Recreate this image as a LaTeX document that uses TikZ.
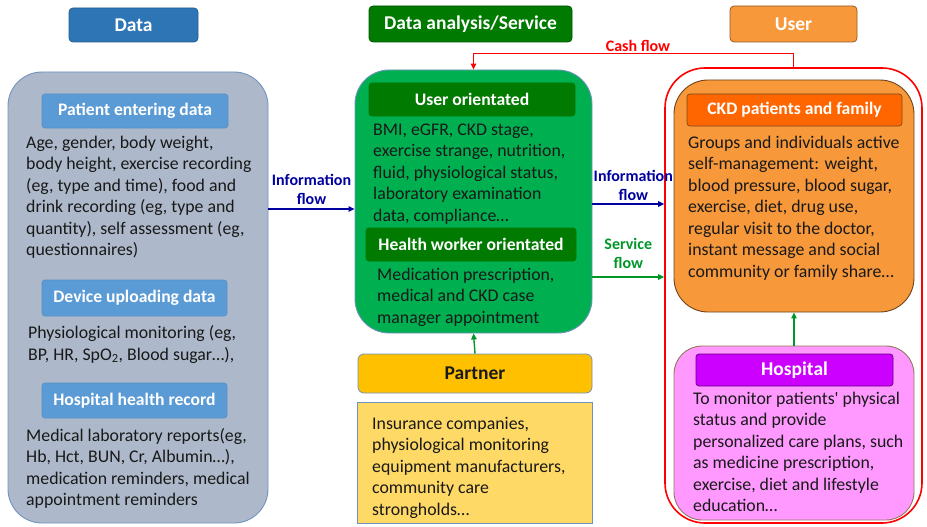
\documentclass[tikz,border=0pt]{standalone}
\usepackage{fontspec}
\setmainfont{Carlito}
\usetikzlibrary{positioning,arrows.meta}
\definecolor{datablue}{RGB}{46,117,182}
\definecolor{subblue}{RGB}{91,155,213}
\definecolor{panelgray}{RGB}{173,185,202}
\definecolor{paneledge}{RGB}{112,146,190}
\definecolor{darkgreen}{RGB}{0,122,0}
\definecolor{panelgreen}{RGB}{0,176,80}
\definecolor{userorange}{RGB}{247,152,58}
\definecolor{ckdorange}{RGB}{255,102,0}
\definecolor{hosppink}{RGB}{255,153,255}
\definecolor{hosppurple}{RGB}{204,0,255}
\definecolor{partnergold}{RGB}{255,192,0}
\definecolor{partnerpale}{RGB}{255,217,102}
\definecolor{infoblue}{RGB}{0,0,160}
\definecolor{servgreen}{RGB}{0,150,40}
\definecolor{cashred}{RGB}{255,0,0}
\definecolor{bodyink}{RGB}{25,25,25}

\begin{document}
\begin{tikzpicture}[
  x=1pt, y=-1pt,
  >={Triangle[length=6pt,width=5.5pt]},
  head/.style={rounded corners=4pt, line width=0.8pt, text=white, inner sep=0pt,
               font=\fontsize{19.5}{22}\selectfont\bfseries},
  subhead/.style={rounded corners=3pt, line width=0.7pt, text=white, inner sep=0pt,
               font=\fontsize{17.6}{20}\selectfont\bfseries},
  panel/.style={rounded corners=34pt, line width=0.9pt, inner sep=0pt},
  body/.style={align=left, inner sep=0pt, anchor=base west, text=bodyink,
               font=\fontsize{17.8}{21.5}\selectfont},
  flowlbl/.style={align=center, inner sep=1.5pt, font=\fontsize{16}{19}\selectfont\bfseries},
  flow/.style={->, line width=1.4pt},
]
\useasboundingbox (0,0) rectangle (927,527);

% ---- column headers ----
\node[head, fill=datablue, draw=datablue!80!black, minimum width=129pt, minimum height=34pt]
  (hdata) at (133.5,25) {Data};
\node[head, fill=darkgreen, draw=darkgreen!70!black, minimum width=203pt, minimum height=36pt]
  (hserv) at (470.5,24) {Data analysis/Service};
\node[head, fill=userorange, draw=userorange!60!black, minimum width=127pt, minimum height=36pt]
  (huser) at (793.5,24) {User};

% ---- data column (text nodes sit on their last baseline) ----
\node[panel, fill=panelgray, draw=paneledge, minimum width=260pt, minimum height=451pt]
  (dpanel) at (138,297.5) {};
\node[subhead, fill=subblue, draw=datablue!80, minimum width=186pt, minimum height=34pt]
  (spatient) at (135,111) {Patient entering data};
\node[body] (tpatient) at (26,255.5)
  {Age, gender, body weight,\\body height, exercise recording\\(eg, type and time), food and\\drink recording (eg, type and\\quantity), self assessment (eg,\\questionnaires)};
\node[subhead, fill=subblue, draw=datablue!80, minimum width=185pt, minimum height=36pt]
  (sdevice) at (134.5,298) {Device uploading data};
\node[body] (tdevice) at (28,360)
  {Physiological monitoring (eg,\\BP, HR, SpO\textsubscript{2}, Blood sugar…),};
\node[subhead, fill=subblue, draw=datablue!80, minimum width=185pt, minimum height=35pt]
  (srecord) at (134.5,400.5) {Hospital health record};
\node[body] (trecord) at (26,505.5)
  {Medical laboratory reports(eg,\\Hb, Hct, BUN, Cr, Albumin…),\\medication reminders, medical\\appointment reminders};

% ---- analysis / service column ----
\node[panel, fill=panelgreen, draw=paneledge, minimum width=237pt, minimum height=263pt]
  (apanel) at (473.5,201.5) {};
\node[subhead, fill=darkgreen, draw=darkgreen, minimum width=206pt, minimum height=33pt]
  (suser) at (472,99.5) {User orientated};
\node[body] (tuser) at (373,221)
  {BMI, eGFR, CKD stage,\\exercise strange, nutrition,\\fluid, physiological status,\\laboratory examination\\data, compliance…};
\node[subhead, fill=darkgreen, draw=darkgreen, minimum width=210pt, minimum height=33pt]
  (sworker) at (471,244.5) {Health worker orientated};
\node[body] (tworker) at (377,323)
  {Medication prescription,\\medical and CKD case\\manager appointment};

\node[head, text=bodyink, fill=partnergold, draw=paneledge, rounded corners=6pt,
      minimum width=234pt, minimum height=39pt] (partner) at (475,373.5) {Partner};
\node[draw=paneledge, line width=0.9pt, fill=partnerpale, minimum width=235pt, minimum height=121pt]
  (ppanel) at (474.5,462.5) {};
\node[body] (tpartner) at (372,515)
  {Insurance companies,\\physiological monitoring\\equipment manufacturers,\\community care\\strongholds…};

% ---- user column ----
\node[panel, draw=cashred, line width=1.6pt, rounded corners=40pt, minimum width=257pt, minimum height=455pt]
  (ubox) at (793.5,295.5) {};
\node[panel, fill=userorange, draw=userorange!45!black, minimum width=240pt, minimum height=232pt]
  (ckd) at (794,196) {};
\node[subhead, fill=ckdorange, draw=userorange!50!black, minimum width=215pt, minimum height=32pt]
  (sckd) at (794.5,110) {CKD patients and family};
\node[body] (tckd) at (688,277)
  {Groups and individuals active\\self-management: weight,\\blood pressure, blood sugar,\\exercise, diet, drug use,\\regular visit to the doctor,\\instant message and social\\community or family share…};
\node[panel, rounded corners=28pt, fill=hosppink, draw=userorange!40!black!70, minimum width=240pt, minimum height=174pt]
  (hosp) at (794,433) {};
\node[subhead, fill=hosppurple, draw=hosppurple!50!black, minimum width=197pt, minimum height=32pt,
      font=\fontsize{19.5}{22}\selectfont\bfseries]
  (shosp) at (794.5,370) {Hospital};
\node[body] (thosp) at (693,511.5)
  {To monitor patients\textquotesingle\ physical\\status and provide\\personalized care plans, such\\as medicine prescription,\\exercise, diet and lifestyle\\education…};

% ---- flows ----
\coordinate (infoin) at ([yshift=-7.5pt]apanel.west);
\coordinate (infoout) at ([yshift=-2.5pt]apanel.east);
\coordinate (servout) at ([yshift=-75.5pt]apanel.east);
\draw[flow, draw=infoblue] (dpanel.east |- infoin) --
  node[flowlbl, above=2pt, text=infoblue] (linfo) {Information\\flow} (infoin);
\draw[flow, draw=infoblue] (infoout) --
  node[flowlbl, above=1pt, text=infoblue, xshift=5pt] (rinfo) {Information\\flow} (ubox.west |- infoout);
\draw[flow, draw=servgreen] (servout) --
  node[flowlbl, above=6pt, text=servgreen] (lserv) {Service\\flow} (ubox.west |- servout);
\draw[flow, draw=servgreen] (partner.north) -- (apanel.south);
\draw[flow, draw=servgreen] (hosp.north) -- (ckd.south);
\draw[flow, draw=cashred, line width=1.3pt] (ubox.north) -- ++(0,-13.5)
  -| node[pos=0.243, above, flowlbl, text=cashred] (lcash) {Cash flow} (apanel.north);

\end{tikzpicture}
\end{document}
